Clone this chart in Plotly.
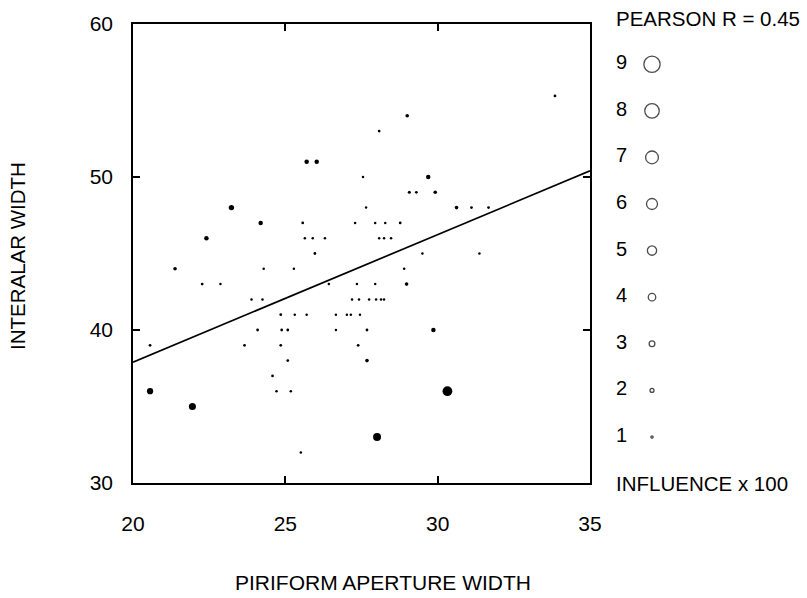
import plotly.graph_objects as go

# ---- data ----
piriform_width = [33.85, 29.0, 28.08, 25.70, 26.03, 27.55, 29.69, 29.07, 29.30, 29.92,
                  27.65, 23.23, 30.62, 31.11, 31.67, 24.19, 25.57, 27.29, 27.95, 28.28,
                  28.77, 22.41, 25.64, 25.90, 26.30, 28.08, 28.24, 28.47, 25.97, 29.50,
                  31.37, 21.38, 24.29, 25.28, 28.90, 22.27, 22.87, 26.43, 27.35, 27.95,
                  28.98, 23.89, 24.25, 27.19, 27.42, 27.75, 27.98, 28.14, 28.24, 24.85,
                  25.31, 25.70, 26.66, 27.02, 27.15, 27.45, 24.09, 24.88, 25.08, 26.66,
                  27.68, 29.86, 20.56, 23.66, 24.85, 27.39, 25.08, 27.68, 24.58, 20.56,
                  24.71, 25.18, 30.32, 21.95, 28.01, 25.51]
interalar_width = [55.3, 54, 53, 51, 51, 50, 50, 49, 49, 49,
                   48, 48, 48, 48, 48, 47, 47, 47, 47, 47,
                   47, 46, 46, 46, 46, 46, 46, 46, 45, 45,
                   45, 44, 44, 44, 44, 43, 43, 43, 43, 43,
                   43, 42, 42, 42, 42, 42, 42, 42, 42, 41,
                   41, 41, 41, 41, 41, 41, 40, 40, 40, 40,
                   40, 40, 39, 39, 39, 39, 38, 38, 37, 36,
                   36, 36, 36, 35, 33, 32]
influence_x100 = [1, 1.5, 1, 2, 2, 0.4, 2, 1.2, 1, 1.5,
                  0.4, 2.5, 1.5, 1, 1, 2, 1, 0.5, 0.7, 0.7,
                  1, 2, 0.7, 0.7, 0.7, 0.7, 0.7, 0.7, 1, 0.5,
                  0.5, 1.5, 0.4, 0.4, 0.4, 1, 0.5, 0.5, 0.5, 0.5,
                  1.5, 0.4, 0.4, 0.5, 0.5, 0.5, 0.5, 0.5, 0.5, 1,
                  0.5, 0.5, 0.4, 0.5, 0.5, 0.8, 1, 1, 1, 0.4,
                  1, 2, 1, 1, 1, 1, 1, 1.5, 1, 3,
                  0.5, 0.5, 5, 3.5, 4, 0.5]
fit_x = [20, 35]
fit_y = [37.9, 50.4]
pearson_r = 0.45
legend_levels = [9, 8, 7, 6, 5, 4, 3, 2, 1]
x_ticks = [20, 25, 30, 35]
y_ticks = [30, 40, 50, 60]

W, H = 807, 598
L, R, T, B = 133, 590, 24, 483
FONT = "Liberation Sans, Arial, Helvetica, sans-serif"


def msize(v):
    return 1.0 + 1.75 * v


fig = go.Figure()

fig.add_trace(go.Scatter(
    x=fit_x, y=fit_y, mode="lines",
    line=dict(color="black", width=1.7), hoverinfo="skip", showlegend=False))

fig.add_trace(go.Scatter(
    x=piriform_width, y=interalar_width, mode="markers",
    marker=dict(color="black", opacity=1, size=[max(2.5, msize(v)) for v in influence_x100],
                line=dict(width=0)),
    showlegend=False))

# influence legend on an invisible pixel-coordinate axis pair
row_y = [437 - (k - 1) * 46.6 for k in legend_levels]
fig.add_trace(go.Scatter(
    x=[652] * len(legend_levels), y=row_y, mode="markers",
    marker=dict(symbol="circle-open", color="black",
                size=[msize(k) - 0.5 for k in legend_levels],
                line=dict(width=1.3, color="black")),
    xaxis="x2", yaxis="y2", showlegend=False, hoverinfo="skip"))
fig.add_trace(go.Scatter(
    x=[621.5] * len(legend_levels), y=row_y, mode="text",
    text=[str(k) for k in legend_levels], textposition="middle center",
    textfont=dict(family=FONT, size=20, color="black"),
    xaxis="x2", yaxis="y2", showlegend=False, hoverinfo="skip"))

axis_common = dict(
    showgrid=False, zeroline=False, showline=True, linecolor="black", linewidth=1.5,
    mirror="ticks", ticks="inside", ticklen=7, tickwidth=1.5, tickcolor="black",
    tickfont=dict(family=FONT, size=21, color="black"), automargin=False)

fig.update_layout(
    width=W, height=H, autosize=False,
    margin=dict(l=0, r=0, t=0, b=0),
    paper_bgcolor="white", plot_bgcolor="white",
    xaxis=dict(domain=[L / W, R / W], range=[20, 35], tickvals=x_ticks,
               ticklabelstandoff=21, **axis_common),
    yaxis=dict(domain=[1 - B / H, 1 - T / H], range=[30, 60], tickvals=y_ticks,
               ticklabelstandoff=14, **axis_common),
    xaxis2=dict(domain=[600 / W, 1], range=[600, 807], visible=False, fixedrange=True),
    yaxis2=dict(domain=[0, 1], range=[598, 0], visible=False, fixedrange=True, anchor="x2"),
    annotations=[
        dict(text=f"PEARSON R = {pearson_r}", x=614 / W, y=1 - 19 / H, xref="paper", yref="paper",
             xanchor="left", yanchor="middle", showarrow=False,
             font=dict(family=FONT, size=20.5, color="black")),
        dict(text="INFLUENCE x 100", x=614 / W, y=1 - 483 / H, xref="paper", yref="paper",
             xanchor="left", yanchor="middle", showarrow=False,
             font=dict(family=FONT, size=20.5, color="black")),
        dict(text="PIRIFORM APERTURE WIDTH", x=383 / W, y=1 - 582 / H, xref="paper", yref="paper",
             xanchor="center", yanchor="middle", showarrow=False,
             font=dict(family=FONT, size=21, color="black")),
        dict(text="INTERALAR WIDTH", x=18 / W, y=1 - 256 / H, xref="paper", yref="paper",
             xanchor="center", yanchor="middle", showarrow=False, textangle=-90,
             font=dict(family=FONT, size=20.5, color="black")),
    ],
)

fig.write_html("out.html", config={"displayModeBar": False},
               post_script="document.body.style.margin='0px';")
